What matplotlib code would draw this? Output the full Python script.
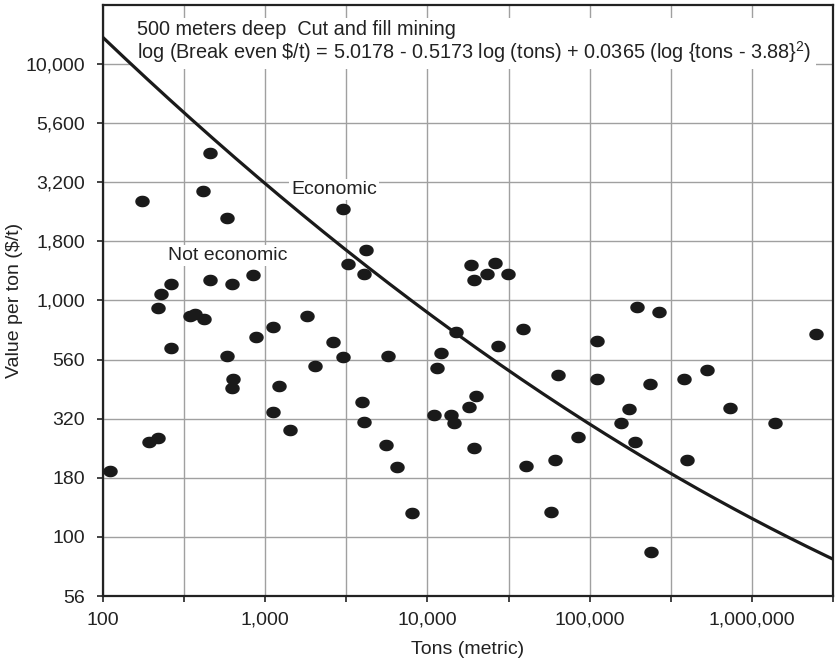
import numpy as np
import matplotlib
matplotlib.use('Agg')
import matplotlib.pyplot as plt
from matplotlib.path import Path
from matplotlib.ticker import FixedLocator, NullLocator

plt.rcParams['font.family'] = ['Liberation Sans', 'DejaVu Sans']
plt.rcParams['mathtext.default'] = 'regular'

# mines: tonnage (metric) and value per ton ($/t)
tons = [455, 174, 412, 580, 3000, 4150, 3220, 4090, 262, 228,
        455, 622, 838, 218, 343, 368, 419, 1110, 1800, 875,
        262, 580, 2600, 3000, 2020, 5750, 631, 622, 1210, 1110,
        1415, 192, 218, 110, 3930, 4090, 5520, 6530, 7980, 11040,
        14060, 14660, 12190, 11530, 15070, 18660, 26180, 23380, 19470, 31480,
        39000, 27370, 18120, 20050, 19470, 40640, 61400, 84900, 64000, 57900,
        111200, 111200, 175000, 156300, 190500, 196000, 268000, 235600, 382000, 528000,
        733000, 1387000, 398000, 239000, 2477000]
value = [4200, 2630, 2900, 2225, 2430, 1630, 1420, 1300, 1170, 1070,
         1215, 1170, 1276, 934, 856, 873, 839, 776, 864, 704,
         632, 585, 670, 579, 530, 585, 467, 428, 436, 339,
         284, 253, 263, 190, 373, 307, 245, 198, 126, 329,
         329, 304, 602, 520, 739, 1407, 1436, 1300, 1215, 1300,
         761, 645, 356, 396, 238, 200, 212, 265, 486, 128,
         677, 467, 349, 304, 253, 943, 890, 445, 467, 510,
         352, 304, 212, 86, 725]

# break-even curve coefficients (as printed on the chart)
b0, b1, b2, c0 = 5.0178, -0.5173, 0.0365, 3.88

y_ticks = [10 ** (k / 4) for k in range(7, 17)]
y_labels = ['56', '100', '180', '320', '560', '1,000', '1,800', '3,200', '5,600', '10,000']
x_ticks = [10 ** (k / 2) for k in range(4, 14)]
x_labels = ['100', '', '1,000', '', '10,000', '', '100,000', '', '1,000,000', '']

fs = 14
ink = '#222222'

fig = plt.figure(figsize=(8.35, 6.64), dpi=100)
ax = fig.add_axes([0.1234, 0.1024, 0.8742, 0.8901])
ax.set_xscale('log')
ax.set_yscale('log')
ax.set_xlim(10 ** 2, 10 ** 6.5)
ax.set_ylim(10 ** 1.75, 10 ** 4.25)

ax.xaxis.set_major_locator(FixedLocator(x_ticks))
ax.yaxis.set_major_locator(FixedLocator(y_ticks))
ax.xaxis.set_minor_locator(NullLocator())
ax.yaxis.set_minor_locator(NullLocator())
ax.set_xticklabels(x_labels)
ax.set_yticklabels(y_labels)
ax.tick_params(axis='both', which='major', direction='out', length=4.5, width=1.2,
               labelsize=fs, colors=ink)
ax.tick_params(axis='x', pad=7)
ax.tick_params(axis='y', pad=8.5)
ax.grid(True, color='#a0a0a0', linewidth=1.0, zorder=0)
ax.set_axisbelow(True)
for s in ax.spines.values():
    s.set_linewidth(1.6)
    s.set_color(ink)

# break-even line (drawn over the white label boxes)
lx = np.linspace(2, 6.5, 200)
ly = b0 + b1 * lx + b2 * (lx - c0) ** 2
ax.plot(10 ** lx, 10 ** ly, color='#1a1a1a', linewidth=2.3, zorder=6)

# elliptical dots
t = np.linspace(0, 2 * np.pi, 60)
ell = Path(np.column_stack([1.28 * np.cos(t), np.sin(t)]), closed=True)
ax.plot(tons, value, linestyle='none', marker=ell, markersize=9.4,
        color='#1a1a1a', zorder=7)

ax.text(0.047, 0.975,
        '500 meters deep  Cut and fill mining\n'
        'log (Break even \\$/t) = 5.0178 - 0.5173 log (tons) + 0.0365 (log {tons - 3.88}$^2$)',
        transform=ax.transAxes, fontsize=14.3, va='top', ha='left', linespacing=1.0,
        color=ink,
        bbox=dict(facecolor='white', edgecolor='none', pad=3), zorder=5)
ax.text(10 ** 3.16, 10 ** 3.47, 'Economic', fontsize=fs, color=ink,
        ha='left', va='center',
        bbox=dict(facecolor='white', edgecolor='none', pad=1.5), zorder=5)
ax.text(10 ** 2.40, 10 ** 3.19, 'Not economic', fontsize=fs, color=ink,
        ha='left', va='center',
        bbox=dict(facecolor='white', edgecolor='none', pad=1.5), zorder=5)

ax.set_xlabel('Tons (metric)', fontsize=fs, color=ink, labelpad=9)
ax.set_ylabel('Value per ton ($/t)', fontsize=fs, color=ink, labelpad=2)

fig.savefig('out.png', dpi=100)
